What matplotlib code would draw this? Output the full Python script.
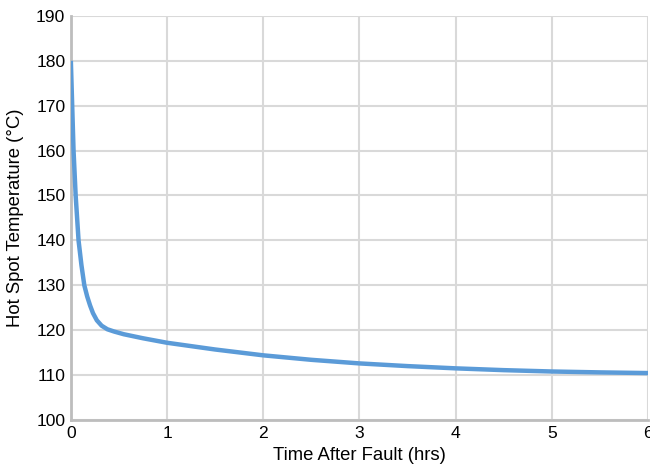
import matplotlib.pyplot as plt

# 데이터
time_hrs = [0, 0.014, 0.028, 0.05, 0.08, 0.11, 0.14, 0.17, 0.2, 0.23, 0.27, 0.32,
            0.38, 0.45, 0.55, 0.75, 1.0, 1.5, 2.0, 2.5, 3.0, 3.5, 4.0, 4.5, 5.0,
            5.5, 6.0]
hot_spot_c = [180, 170, 160, 150, 140, 134.5, 130, 127.5, 125.5, 123.8, 122.2, 121.0,
              120.2, 119.7, 119.1, 118.2, 117.2, 115.7, 114.4, 113.4, 112.6, 112.0,
              111.5, 111.1, 110.8, 110.6, 110.45]
x_ticks = [0, 1, 2, 3, 4, 5, 6]
y_ticks = [100, 110, 120, 130, 140, 150, 160, 170, 180, 190]

plt.rcParams['font.family'] = ['Liberation Sans', 'DejaVu Sans']

fig = plt.figure(figsize=(6.5, 4.68), dpi=100)
ax = fig.add_axes([0.109, 0.1026, 0.888, 0.8634])

ax.plot(time_hrs, hot_spot_c, color='#5b9bd8', linewidth=3.2,
        solid_capstyle='butt', solid_joinstyle='round', zorder=3)

ax.set_xlim(0, 6)
ax.set_ylim(100, 190)
ax.set_xticks(x_ticks)
ax.set_yticks(y_ticks)
ax.grid(True, color='#d9d9d9', linewidth=1.5)
ax.set_axisbelow(True)

for s in ['top', 'right']:
    ax.spines[s].set_visible(False)
for s in ['left', 'bottom']:
    ax.spines[s].set_color('#bdbdbd')
    ax.spines[s].set_linewidth(2)

ax.tick_params(length=0, labelsize=12.6, pad=4)
ax.set_xlabel('Time After Fault (hrs)', fontsize=13.3, labelpad=5)
ax.set_ylabel('Hot Spot Temperature (°C)', fontsize=13.3, labelpad=9)

fig.savefig('out.png', dpi=100)
